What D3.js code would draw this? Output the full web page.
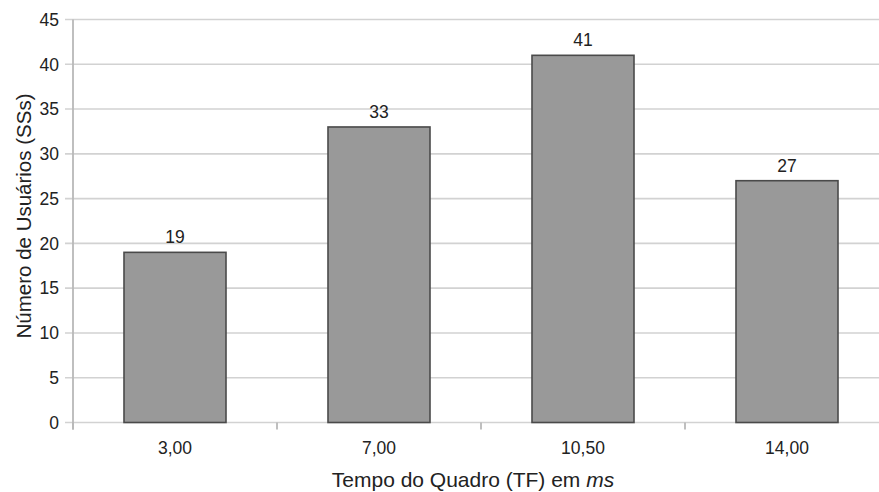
<!DOCTYPE html>
<html>
<head>
<meta charset="utf-8">
<script src="https://cdn.jsdelivr.net/npm/d3@7"></script>
<style>
html,body{margin:0;padding:0;background:#fff;}
svg{display:block;font-family:"Liberation Sans",Arial,sans-serif;}
</style>
</head>
<body>
<svg id="chart" width="879" height="492"></svg>
<script>
const categories = ["3,00", "7,00", "10,50", "14,00"];
const values = [19, 33, 41, 27];
const yTicks = [0, 5, 10, 15, 20, 25, 30, 35, 40, 45];
const yTitle = "Número de Usuários (SSs)";
const xTitleMain = "Tempo do Quadro (TF) em ";
const xTitleItalic = "ms";

const W = 879, H = 492;
const mLeft = 73, mTop = 19.5, mBottom = 422.5, mRight = 889;
const svg = d3.select("#chart");

const y = d3.scaleLinear().domain([0, 45]).range([mBottom, mTop]);
const x = d3.scaleBand().domain(categories).range([mLeft, mRight])
  .paddingInner(0.5).paddingOuter(0.25);
const step = x.step();

// gridlines
svg.append("g").selectAll("line").data(yTicks).join("line")
  .attr("x1", mLeft - 8).attr("x2", W)
  .attr("y1", d => y(d)).attr("y2", d => y(d))
  .attr("stroke", "#d2d2d2").attr("stroke-width", 1.6);

// y axis line
svg.append("line").attr("x1", mLeft).attr("x2", mLeft)
  .attr("y1", mTop).attr("y2", mBottom + 7)
  .attr("stroke", "#b8b8b8").attr("stroke-width", 1.8);

// x ticks at band boundaries
const boundaries = categories.map(c => x(c) - step * 0.25).concat([x(categories[categories.length-1]) + x.bandwidth() + step*0.25]);
svg.append("g").selectAll("line").data(boundaries).join("line")
  .attr("x1", d => d).attr("x2", d => d)
  .attr("y1", mBottom).attr("y2", mBottom + 7)
  .attr("stroke", "#b8b8b8").attr("stroke-width", 1.8);

// y tick labels
svg.append("g").selectAll("text").data(yTicks).join("text")
  .attr("x", 59).attr("y", d => y(d)).attr("dy", "0.36em")
  .attr("text-anchor", "end").attr("font-size", 17.5).attr("fill", "#222")
  .text(d => d);

// bars
svg.append("g").selectAll("rect").data(values).join("rect")
  .attr("x", (d, i) => x(categories[i]))
  .attr("y", d => y(d))
  .attr("width", x.bandwidth())
  .attr("height", d => y(0) - y(d))
  .attr("fill", "#999999").attr("stroke", "#4a4a4a").attr("stroke-width", 1.6);

// value labels
svg.append("g").selectAll("text").data(values).join("text")
  .attr("x", (d, i) => x(categories[i]) + x.bandwidth() / 2)
  .attr("y", d => y(d) - 9)
  .attr("text-anchor", "middle").attr("font-size", 17.5).attr("fill", "#222")
  .text(d => d);

// x tick labels
svg.append("g").selectAll("text").data(categories).join("text")
  .attr("x", d => x(d) + x.bandwidth() / 2)
  .attr("y", 454)
  .attr("text-anchor", "middle").attr("font-size", 17.5).attr("fill", "#222")
  .text(d => d);

// x title
const xt = svg.append("text").attr("x", 473).attr("y", 487)
  .attr("text-anchor", "middle").attr("font-size", 21).attr("fill", "#222");
xt.append("tspan").text(xTitleMain);
xt.append("tspan").attr("font-style", "italic").text(xTitleItalic);

// y title
svg.append("text")
  .attr("transform", "translate(31,216) rotate(-90)")
  .attr("text-anchor", "middle").attr("font-size", 20.5).attr("fill", "#222")
  .text(yTitle);
</script>
</body>
</html>
